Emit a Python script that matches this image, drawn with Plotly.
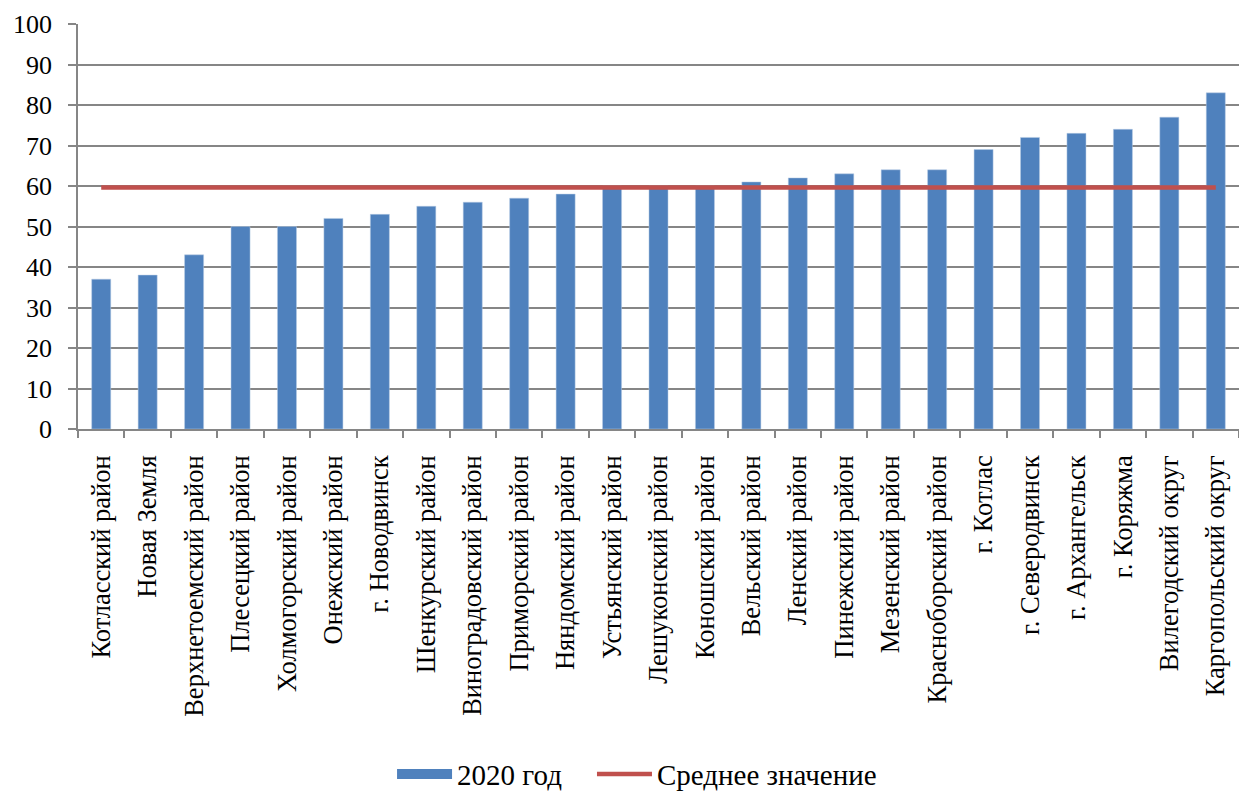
import plotly.graph_objects as go

categories = ["Котласский район", "Новая Земля", "Верхнетоемский район", "Плесецкий район",
              "Холмогорский район", "Онежский район", "г. Новодвинск", "Шенкурский район",
              "Виноградовский район", "Приморский район", "Няндомский район", "Устьянский район",
              "Лешуконский район", "Коношский район", "Вельский район", "Ленский район",
              "Пинежский район", "Мезенский район", "Красноборский район", "г. Котлас",
              "г. Северодвинск", "г. Архангельск", "г. Коряжма", "Вилегодский округ",
              "Каргопольский округ"]
values_2020 = [37, 38, 43, 50, 50, 52, 53, 55, 56, 57, 58, 60, 60, 60, 61, 62, 63, 64, 64,
               69, 72, 73, 74, 77, 83]
mean_value = [59.6] * len(categories)
y_ticks = [0, 10, 20, 30, 40, 50, 60, 70, 80, 90, 100]

FONT = "Liberation Serif, Times New Roman, serif"
BLUE = "#4F81BD"
RED = "#C0504D"

fig = go.Figure()
fig.add_trace(go.Bar(x=categories, y=values_2020, name="2020 год", showlegend=False,
                     legendgroup="bar",
                     marker=dict(color=BLUE, line=dict(color="#B9CDE5", width=0.5))))
# legend entry for bars drawn as a wide rectangle-like swatch
fig.add_trace(go.Scatter(x=[None], y=[None], name="2020 год", mode="lines", legendgroup="bar",
                         line=dict(color=BLUE, width=13), legend="legend"))
fig.add_trace(go.Scatter(x=categories, y=mean_value, name="Среднее значение", mode="lines",
                         line=dict(color=RED, width=4.5), legend="legend2"))

legend_common = dict(orientation="h", yanchor="middle", y=-0.852, xanchor="left",
                     font=dict(size=29, family=FONT, color="black"),
                     itemwidth=55, bgcolor="rgba(0,0,0,0)")

fig.update_layout(
    width=1239, height=793,
    margin=dict(l=78, r=0, t=24, b=364, autoexpand=False),
    paper_bgcolor="white", plot_bgcolor="white",
    bargap=0.59,
    font=dict(family=FONT, color="black", size=26),
    showlegend=True,
    legend=dict(x=0.2705, **legend_common),
    legend2=dict(x=0.4427, **legend_common),
)
fig.update_xaxes(
    tickangle=-90, tickfont=dict(size=26.5, family=FONT, color="black"),
    showline=True, linecolor="#868686", linewidth=1.5,
    ticks="outside", tickson="boundaries", ticklen=7, tickcolor="#868686", tickwidth=1.5,
    showgrid=False, range=[-0.5, len(categories) - 0.5], automargin=False,
    ticklabelstandoff=14,
)
fig.update_yaxes(
    range=[0, 100], tickvals=y_ticks, tickfont=dict(size=26, family=FONT, color="black"),
    showline=True, linecolor="#868686", linewidth=1.5,
    ticks="outside", ticklen=8, tickcolor="#868686", tickwidth=1.5,
    showgrid=True, gridcolor="#868686", gridwidth=1.5, zeroline=False, automargin=False,
    ticklabelstandoff=11,
)

fig.write_html("out.html", config={"displayModeBar": False},
               post_script="document.body.style.margin='0';document.body.style.overflow='hidden';")
